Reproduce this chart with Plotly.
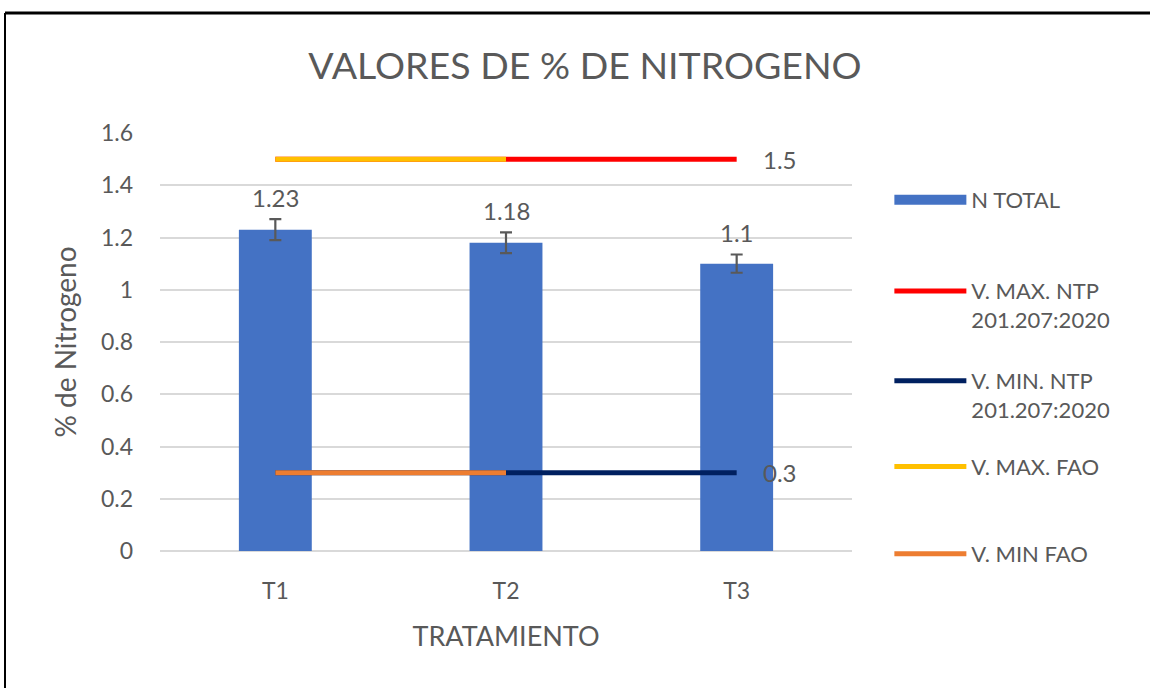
import plotly.graph_objects as go

# datos
categorias = ["T1", "T2", "T3"]
n_total = [1.23, 1.18, 1.10]
n_total_err = [0.04, 0.04, 0.035]
v_max_ntp = [1.5, 1.5, 1.5]
v_min_ntp = [0.3, 0.3, 0.3]
v_max_fao = [1.5, 1.5, None]
v_min_fao = [0.3, 0.3, None]

TXT = "#595959"
GRID = "#D9D9D9"
FONT = "Lato"
AZUL = "#4472C4"

fig = go.Figure()
fig.add_trace(go.Bar(
    x=categorias, y=n_total, name="N TOTAL", width=0.316,
    marker=dict(color=AZUL, line=dict(width=0)),
    error_y=dict(type="data", array=n_total_err, color="#595959", thickness=2.2, width=6),
    showlegend=False,
))
# entrada de leyenda con rectángulo ancho, como en Excel
fig.add_trace(go.Scatter(
    x=[None], y=[None], name="N TOTAL", mode="lines",
    line=dict(color=AZUL, width=13), legend="legend",
))
lineas = [
    ("V. MAX. NTP<br>201.207:2020", v_max_ntp, "#FF0000", "legend2"),
    ("V. MIN. NTP<br>201.207:2020", v_min_ntp, "#002060", "legend3"),
    ("V. MAX. FAO", v_max_fao, "#FFC000", "legend4"),
    ("V. MIN FAO", v_min_fao, "#ED7D31", "legend5"),
]
for nombre, vals, color, leg in lineas:
    fig.add_trace(go.Scatter(
        x=categorias, y=vals, name=nombre, mode="lines",
        line=dict(color=color, width=5), legend=leg,
    ))

# etiquetas de datos
for c, v, e in zip(categorias, n_total, n_total_err):
    fig.add_annotation(x=c, y=v + e, text=f"{v:g}", showarrow=False,
                       yanchor="bottom", yshift=5, font=dict(size=24, color=TXT))
for vals in (v_max_ntp, v_min_ntp):
    fig.add_annotation(x=categorias[-1], y=vals[-1], text=f"{vals[-1]:g}", showarrow=False,
                       xanchor="left", xshift=24, font=dict(size=24, color=TXT))

leg_base = dict(x=1.054, xanchor="left", yanchor="top", valign="top",
                font=dict(family=FONT, size=22, color=TXT), itemwidth=72,
                bgcolor="rgba(0,0,0,0)")
legend_y = {"legend": 0.89, "legend2": 0.672, "legend3": 0.457, "legend4": 0.252, "legend5": 0.043}
layout_legends = {k: dict(leg_base, y=v) for k, v in legend_y.items()}

fig.update_layout(
    width=1150, height=688,
    paper_bgcolor="white", plot_bgcolor="white",
    font=dict(family=FONT, color=TXT, size=22),
    margin=dict(l=160, r=298, t=133, b=137, autoexpand=False),
    title=dict(text="VALORES DE % DE NITROGENO", x=585 / 1150, xanchor="center",
               xref="container", y=1 - 66 / 688, yanchor="middle",
               font=dict(size=37.5, color=TXT, family=FONT)),
    showlegend=True,
    xaxis=dict(title=dict(text="TRATAMIENTO", standoff=24, font=dict(size=27)),
               tickfont=dict(size=23), ticklabelstandoff=24, showgrid=False,
               showline=False, automargin=False),
    yaxis=dict(title=dict(text="% de Nitrogeno", standoff=16, font=dict(size=28)),
               range=[0, 1.6], dtick=0.2, tickformat="~g", tickfont=dict(size=23),
               gridcolor=GRID, gridwidth=2, zeroline=True, zerolinecolor=GRID, zerolinewidth=2,
               ticklabelstandoff=26, automargin=False),
    **layout_legends,
)

# marco del gráfico (recortado a la derecha y abajo)
fig.add_shape(type="line", xref="paper", yref="paper",
              x0=(5 - 160) / 692, x1=(1160 - 160) / 692,
              y0=(551 - 13) / 418, y1=(551 - 13) / 418,
              line=dict(color="black", width=3))
fig.add_shape(type="line", xref="paper", yref="paper",
              x0=(5 - 160) / 692, x1=(5 - 160) / 692,
              y0=(551 - 13) / 418, y1=(551 - 700) / 418,
              line=dict(color="black", width=2))

fig.write_html("out.html", config={"displayModeBar": False},
               post_script="document.body.style.margin='0';")
